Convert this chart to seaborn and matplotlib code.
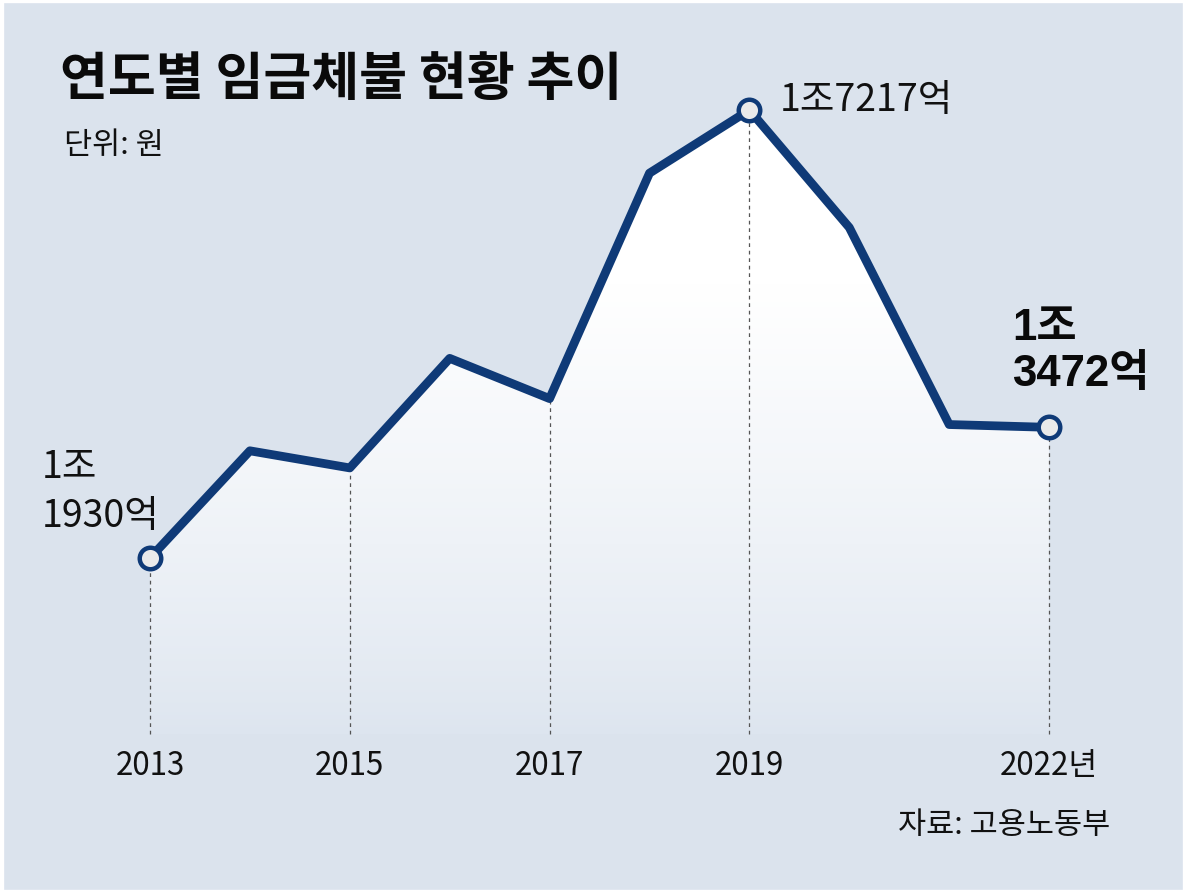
import numpy as np
import pandas as pd
import matplotlib
matplotlib.use("Agg")
import matplotlib.pyplot as plt
from matplotlib.patches import Polygon, Rectangle
from matplotlib.colors import to_rgb
import seaborn as sns

# data: 임금체불 (억원)
years = [2013, 2014, 2015, 2016, 2017, 2018, 2019, 2020, 2021, 2022]
amounts = [11930, 13195, 12993, 14286, 13811, 16472, 17217, 15830, 13505, 13472]
marked_years = [2013, 2019, 2022]
guide_years = [2013, 2015, 2017, 2019, 2022]
tick_labels = ["2013", "2015", "2017", "2019", "2022년"]

title = "연도별 임금체불 현황 추이"
unit = "단위: 원"
source = "자료: 고용노동부"

NAVY = "#0f3a77"
BG = "#dbe3ed"
FILL_BOTTOM = "#dde5ef"

sns.set_theme(style="white")
plt.rcParams["font.family"] = ["Noto Sans CJK KR", "DejaVu Sans"]
narrow = ["Liberation Sans Narrow", "Noto Sans CJK KR"]
boldfam = ["Liberation Sans", "Noto Sans CJK KR"]

df = pd.DataFrame({"year": years, "amount": amounts})
amt = dict(zip(years, amounts))

W, H = 1187, 895
fig = plt.figure(figsize=(W / 100, H / 100), dpi=100)
ax = fig.add_axes([0, 0, 1, 1])

# pixel mapping of the original (2013 -> x150, 2019 value -> y111, 2013 value -> y559)
kx = 99.9
ky = (559 - 111) / (17217 - 11930)
xlim = (2013 - 150 / kx, 2013 + (W - 150) / kx)
ylim = (11930 - (H - 559) / ky, 11930 + 559 / ky)
base = 11930 - (735 - 559) / ky

# gradient fill under the line
poly = Polygon([(years[0], base)] + list(zip(years, amounts)) + [(years[-1], base)],
               closed=True, facecolor="none", edgecolor="none")
ax.add_patch(poly)
top_c = np.array(to_rgb("white"))
bot_c = np.array(to_rgb(FILL_BOTTOM))
t = np.linspace(0, 1, 256)
t = np.clip(t / 0.72, 0, 1) ** 0.8
grad = bot_c[None, :] * (1 - t[:, None]) + top_c[None, :] * t[:, None]
grad = grad[:, None, :]
im = ax.imshow(grad, extent=[years[0], years[-1], base, max(amounts)],
               origin="lower", aspect="auto", zorder=1)
im.set_clip_path(poly)

# dashed guides
for yr in guide_years:
    ax.plot([yr, yr], [base, amt[yr]], color="#555555", lw=0.9,
            ls=(0, (3, 3)), zorder=2)

sns.lineplot(data=df, x="year", y="amount", ax=ax, color=NAVY, linewidth=6.3,
             zorder=4, legend=False)

sns.scatterplot(x=marked_years, y=[amt[y] for y in marked_years], ax=ax, s=240,
                color="#eaeaea", edgecolor=NAVY, linewidth=3.2, zorder=5, legend=False)

ax.set_xlim(*xlim)
ax.set_ylim(*ylim)
ax.axis("off")

fig.add_artist(Rectangle((0, 0), 1, 1, transform=fig.transFigure, facecolor=BG,
                         edgecolor="none", zorder=-10))
fig.add_artist(Rectangle((0, 0), 1, 1, transform=fig.transFigure, fill=False,
                         edgecolor="white", linewidth=6, zorder=20))


def fy(py):
    return 1 - py / H


def fx(px):
    return px / W


# x labels
xt = ax.get_xaxis_transform()
for yr, lab in zip(guide_years, tick_labels):
    ax.text(yr, fy(766), lab, transform=xt, ha="center", va="center",
            fontsize=22.5, family=narrow, color="#111111")

# titles
ax.text(fx(60), fy(80), title, transform=ax.transAxes, ha="left", va="center",
        fontsize=37.5, fontweight="heavy", color="#0a0a0a")
ax.text(fx(64), fy(146), unit, transform=ax.transAxes, ha="left", va="center",
        fontsize=22, color="#111111")
ax.text(fx(1110), fy(826), source, transform=ax.transAxes, ha="right", va="center",
        fontsize=22, color="#111111")

# value labels
ax.text(fx(42), fy(468), "1조", transform=ax.transAxes, ha="left", va="center",
        fontsize=27, family=narrow, color="#111111")
ax.text(fx(42), fy(517), "1930억", transform=ax.transAxes, ha="left", va="center",
        fontsize=27, family=narrow, color="#111111")
ax.text(fx(780), fy(101), "1조7217억", transform=ax.transAxes, ha="left", va="center",
        fontsize=27, family=narrow, color="#111111")
ax.text(fx(1012), fy(328), "1조", transform=ax.transAxes, ha="left", va="center",
        fontsize=31.5, family=boldfam, fontweight="bold", color="#0a0a0a")
ax.text(fx(1012), fy(375), "3472억", transform=ax.transAxes, ha="left", va="center",
        fontsize=31.5, family=boldfam, fontweight="bold", color="#0a0a0a")

fig.savefig("out.png", dpi=100, facecolor="white")
